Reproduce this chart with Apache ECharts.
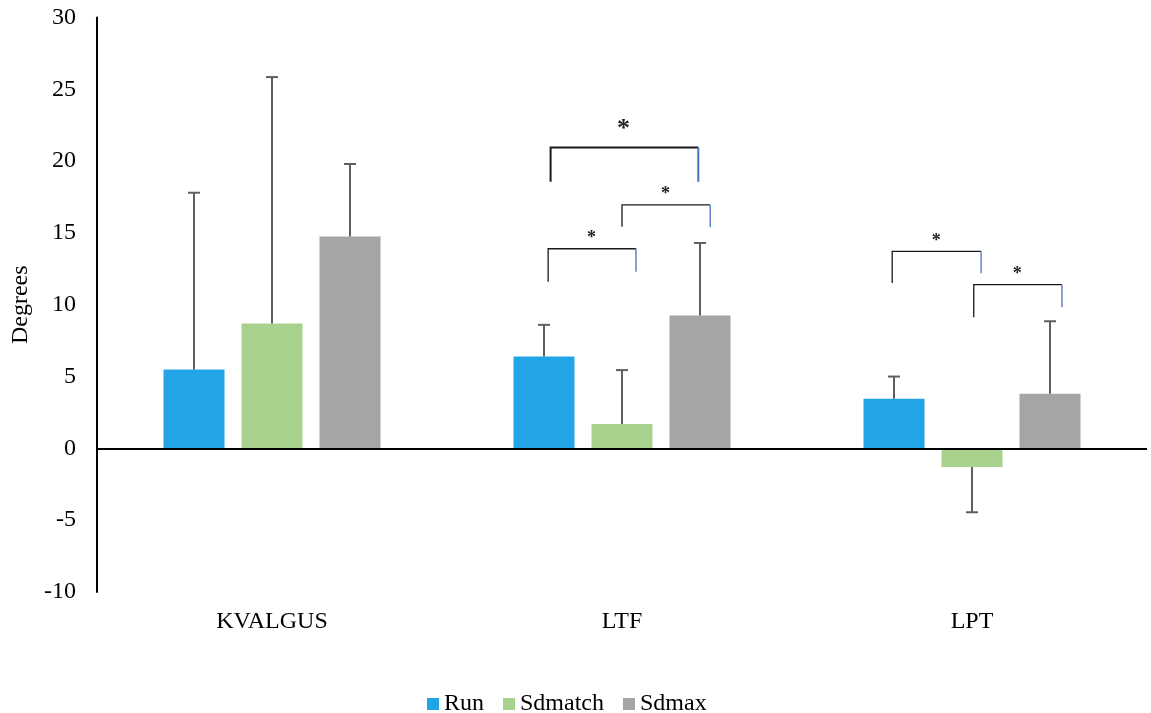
<!DOCTYPE html>
<html>
<head>
<meta charset="utf-8">
<script src="https://cdn.jsdelivr.net/npm/echarts@6/dist/echarts.min.js"></script>
<style>html,body{margin:0;padding:0;background:#fff}#c{width:1151px;height:713px}</style>
</head>
<body>
<div id="c"></div>
<script>
// ---- data ----
const categories = ['KVALGUS', 'LTF', 'LPT'];
const seriesNames = ['Run', 'Sdmatch', 'Sdmax'];
const runValues = [5.5, 6.4, 3.45];
const sdmatchValues = [8.7, 1.7, -1.3];
const sdmaxValues = [14.75, 9.25, 3.8];
// error bar ends (value + SD, or value - SD for negative bars)
const runErrEnd = [17.8, 8.6, 5.0];
const sdmatchErrEnd = [25.85, 5.45, -4.45];
const sdmaxErrEnd = [19.8, 14.3, 8.85];
const yTicks = [-10, -5, 0, 5, 10, 15, 20, 25, 30];
// significance brackets: category, left/right x offsets (fraction of category band), top y, left leg bottom, right leg bottom, star x offset, star y
const bracketCat = [1, 1, 1, 2, 2];
const bracketX0 = [-0.211, 0.0, -0.204, -0.228, 0.005];
const bracketX1 = [0.040, 0.252, 0.218, 0.026, 0.257];
const bracketTop = [13.9, 16.95, 20.95, 13.72, 11.4];
const bracketLeftBottom = [11.6, 15.43, 18.56, 11.51, 9.13];
const bracketRightBottom = [12.3, 15.39, 18.56, 12.19, 9.82];
const starX = [-0.087, 0.124, 0.004, -0.102, 0.129];
const starY = [14.9, 17.96, 22.6, 14.69, 12.37];
const starText = ['*', '*', '*', '*', '*'];

// ---- rendering ----
const colors = ['#21A5E6', '#A9D18E', '#A5A5A5'];
const FONT = '"Liberation Serif", "Times New Roman", serif';
const FS = 24;
const BAR_W = 61, BAR_GAP = 17;
const values = [runValues, sdmatchValues, sdmaxValues];
const errEnds = [runErrEnd, sdmatchErrEnd, sdmaxErrEnd];
const boldBracket = [false, false, true, false, false];

const barSeries = seriesNames.map((n, i) => ({
  name: n, type: 'bar', data: values[i], barWidth: BAR_W, barGap: (BAR_GAP / BAR_W * 100) + '%',
  itemStyle: { color: colors[i] }, emphasis: { disabled: true }, z: 2,
  markLine: i === 0 ? {
    silent: true, symbol: 'none', label: { show: false },
    lineStyle: { color: '#000', width: 2, type: 'solid' },
    data: [{ yAxis: 0 }], z: 5
  } : undefined
}));

const errSeries = seriesNames.map((n, i) => ({
  type: 'custom', name: n + '_err', silent: true, z: 3,
  data: categories.map((c, k) => [k, values[i][k], errEnds[i][k]]),
  renderItem: function (params, api) {
    const p0 = api.coord([api.value(0), api.value(1)]);
    const p1 = api.coord([api.value(0), api.value(2)]);
    const x = p0[0] + (i - 1) * (BAR_W + BAR_GAP);
    const st = { stroke: '#5F5F5F', lineWidth: 2 };
    return { type: 'group', children: [
      { type: 'line', shape: { x1: x, y1: p0[1], x2: x, y2: p1[1] }, style: st },
      { type: 'line', shape: { x1: x - 6, y1: p1[1], x2: x + 6, y2: p1[1] }, style: st }
    ] };
  }
}));

const bracketSeries = {
  type: 'custom', silent: true, z: 4,
  data: bracketCat.map((c, k) => [c, bracketTop[k], k]),
  renderItem: function (params, api) {
    const k = api.value(2);
    const c = api.value(0);
    const band = api.size([1, 0])[0];
    const center = api.coord([c, 0])[0];
    const xl = center + bracketX0[k] * band;
    const xr = center + bracketX1[k] * band;
    const yt = api.coord([c, bracketTop[k]])[1];
    const yl = api.coord([c, bracketLeftBottom[k]])[1];
    const yr = api.coord([c, bracketRightBottom[k]])[1];
    const ys = api.coord([c, starY[k]])[1];
    const xs = center + starX[k] * band;
    const bold = boldBracket[k];
    const lw = bold ? 2 : 1.3;
    const fs = bold ? 26 : 18;
    return { type: 'group', children: [
      { type: 'polyline', shape: { points: [[xl, yl], [xl, yt], [xr, yt]] }, style: { stroke: '#1a1a1a', lineWidth: lw, fill: null } },
      { type: 'line', shape: { x1: xr, y1: yt, x2: xr, y2: yr }, style: { stroke: '#4472C4', lineWidth: lw } },
      { type: 'text', x: xs, y: ys + fs * 0.22, style: { text: starText[k], font: 'bold ' + fs + 'px ' + FONT, fill: '#222', align: 'center', verticalAlign: 'middle' } }
    ] };
  }
};

const chart = echarts.init(document.getElementById('c'), null, { renderer: 'canvas' });
chart.setOption({
  animation: false,
  backgroundColor: '#fff',
  grid: { left: 97, right: 4, top: 17.5, bottom: 121, containLabel: false, outerBoundsMode: 'none' },
  legend: {
    data: seriesNames, top: 687, left: 422, itemWidth: 12, itemHeight: 12, itemGap: 19,
    icon: 'rect', textStyle: { fontFamily: FONT, fontSize: FS, color: '#000' }
  },
  xAxis: {
    type: 'category', data: categories,
    axisLine: { show: false }, axisTick: { show: false },
    axisLabel: { margin: 18, fontFamily: FONT, fontSize: FS, color: '#000' }
  },
  yAxis: {
    type: 'value', min: yTicks[0], max: yTicks[yTicks.length - 1], interval: 5,
    name: 'Degrees', nameLocation: 'middle', nameGap: 63, nameRotate: 90,
    nameTextStyle: { fontFamily: FONT, fontSize: FS, color: '#000' },
    axisLine: { show: true, lineStyle: { color: '#000', width: 2 } },
    axisTick: { show: false }, splitLine: { show: false },
    axisLabel: { margin: 21, fontFamily: FONT, fontSize: FS, color: '#000' }
  },
  series: [...barSeries, ...errSeries, bracketSeries]
});
</script>
</body>
</html>
